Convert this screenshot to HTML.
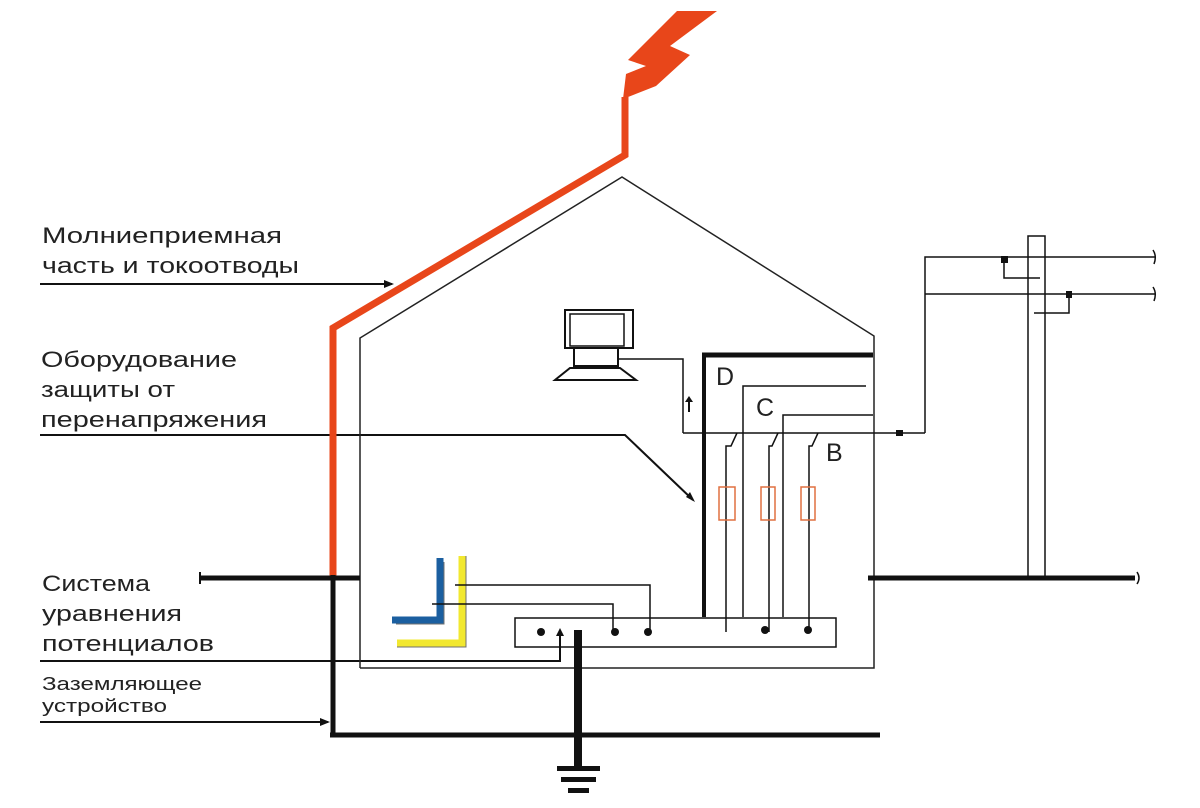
<!DOCTYPE html>
<html><head><meta charset="utf-8"><style>
html,body{margin:0;padding:0;background:#fff;width:1200px;height:808px;overflow:hidden}
svg{display:block}
text{font-family:"Liberation Sans","DejaVu Sans",sans-serif;fill:#222}
</style></head><body>
<svg width="1200" height="808" viewBox="0 0 1200 808" xmlns="http://www.w3.org/2000/svg">
<!-- labels -->
<text x="42" y="243" font-size="22" textLength="240" lengthAdjust="spacingAndGlyphs">Молниеприемная</text>
<text x="42" y="273" font-size="22" textLength="257" lengthAdjust="spacingAndGlyphs">часть и токоотводы</text>
<line x1="40" y1="284" x2="392" y2="284" stroke="#111" stroke-width="2"/>
<polygon points="384,280 394,284 384,288" fill="#111"/>
<text x="41" y="367" font-size="22" textLength="196" lengthAdjust="spacingAndGlyphs">Оборудование</text>
<text x="41" y="397" font-size="22" textLength="134" lengthAdjust="spacingAndGlyphs">защиты от</text>
<text x="41" y="427" font-size="22" textLength="226" lengthAdjust="spacingAndGlyphs">перенапряжения</text>
<polyline points="40,435 625,435 693,500" fill="none" stroke="#111" stroke-width="2"/>
<polygon points="686,497 695,502 690,492" fill="#111"/>
<text x="42" y="591" font-size="22" textLength="108" lengthAdjust="spacingAndGlyphs">Система</text>
<text x="42" y="621" font-size="22" textLength="140" lengthAdjust="spacingAndGlyphs">уравнения</text>
<text x="42" y="651" font-size="22" textLength="172" lengthAdjust="spacingAndGlyphs">потенциалов</text>
<polyline points="40,661 560,661 560,632" fill="none" stroke="#111" stroke-width="2"/>
<polygon points="556,636 560,628 564,636" fill="#111"/>
<text x="42" y="690" font-size="18" textLength="160" lengthAdjust="spacingAndGlyphs">Заземляющее</text>
<text x="42" y="712" font-size="18" textLength="125" lengthAdjust="spacingAndGlyphs">устройство</text>
<line x1="40" y1="722" x2="328" y2="722" stroke="#111" stroke-width="2"/>
<polygon points="320,718 330,722 320,726" fill="#111"/>

<!-- house outline -->
<polyline points="360,668 360,338 622,177 874,336 874,668 360,668" fill="none" stroke="#222" stroke-width="1.5"/>

<!-- lightning bolt -->
<polygon points="677,11 717,11 670,46 690,55 656,86 623,99 626,74 646,66 628,60 650,38" fill="#e8461a"/>
<!-- down conductor -->
<polyline points="625,97 625,155 333,328 333,577" fill="none" stroke="#e8461a" stroke-width="7"/>
<line x1="333" y1="575" x2="333" y2="737" stroke="#111" stroke-width="5"/>
<line x1="330" y1="735" x2="880" y2="735" stroke="#111" stroke-width="5"/>
<line x1="200" y1="578" x2="360" y2="578" stroke="#111" stroke-width="5"/>
<line x1="200" y1="572" x2="200" y2="584" stroke="#111" stroke-width="2"/>
<line x1="868" y1="578" x2="1135" y2="578" stroke="#111" stroke-width="5"/>

<!-- computer -->
<rect x="565" y="310" width="68" height="38" fill="none" stroke="#111" stroke-width="2"/>
<rect x="570" y="314" width="54" height="32" fill="none" stroke="#111" stroke-width="1.5"/>
<rect x="574" y="348" width="44" height="18" fill="none" stroke="#111" stroke-width="2"/>
<polygon points="555,380 636,380 620,368 570,368" fill="none" stroke="#111" stroke-width="2"/>
<polyline points="618,359 683,359 683,433" fill="none" stroke="#111" stroke-width="1.5"/>
<line x1="689" y1="399" x2="689" y2="412" stroke="#111" stroke-width="2"/>
<polygon points="685,402 689,396 693,402" fill="#111"/>

<!-- frame -->
<line x1="704" y1="353" x2="704" y2="617" stroke="#111" stroke-width="4"/>
<line x1="702" y1="355" x2="873" y2="355" stroke="#111" stroke-width="5"/>
<text x="716" y="385" font-size="25" fill="#222">D</text>
<text x="756" y="416" font-size="25" fill="#222">C</text>
<text x="826" y="461" font-size="25" fill="#222">B</text>
<polyline points="743,617 743,386 866,386" fill="none" stroke="#111" stroke-width="1.5"/>
<polyline points="783,617 783,415 873,415" fill="none" stroke="#111" stroke-width="1.5"/>
<line x1="683" y1="433" x2="925" y2="433" stroke="#111" stroke-width="1.5"/>
<rect x="896" y="430" width="7" height="6" fill="#111"/>
<polyline points="925,433 925,257 1155,257" fill="none" stroke="#111" stroke-width="1.5"/>
<line x1="925" y1="294" x2="1155" y2="294" stroke="#111" stroke-width="1.5"/>
<!-- switches -->
<g stroke="#111" stroke-width="1.5" fill="none">
<polyline points="737,433 731,446 726,446 726,632"/>
<polyline points="778,433 772,446 769,446 769,632"/>
<polyline points="818,433 812,446 809,446 809,632"/>
</g>
<g fill="none" stroke="#e07040" stroke-width="1.5">
<rect x="719" y="487" width="16" height="33"/>
<rect x="761" y="487" width="14" height="33"/>
<rect x="801" y="487" width="14" height="33"/>
</g>
<!-- busbar -->
<rect x="515" y="618" width="321" height="29" fill="none" stroke="#111" stroke-width="1.5"/>
<g fill="#111">
<circle cx="541" cy="632" r="4"/><circle cx="615" cy="632" r="4"/><circle cx="648" cy="632" r="4"/>
<circle cx="765" cy="630" r="4"/><circle cx="808" cy="630" r="4"/>
</g>
<!-- pipes -->
<polyline points="440,558 440,620 392,620" fill="none" stroke="#1b5fa0" stroke-width="7"/>
<polyline points="440,558 440,620 392,620" fill="none" stroke="#111" stroke-width="1" transform="translate(4,4)" opacity="0.6"/>
<polyline points="462,556 462,643 397,643" fill="none" stroke="#f2e830" stroke-width="7"/>
<polyline points="466,556 466,647 397,647" fill="none" stroke="#111" stroke-width="1" opacity="0.6"/>
<polyline points="455,585 650,585 650,632" fill="none" stroke="#111" stroke-width="1.5"/>
<polyline points="432,604 613,604 613,632" fill="none" stroke="#111" stroke-width="1.5"/>
<!-- ground rod -->
<line x1="578" y1="630" x2="578" y2="768" stroke="#111" stroke-width="8"/>
<rect x="557" y="766" width="43" height="5" fill="#111"/>
<rect x="561" y="777" width="35" height="5" fill="#111"/>
<rect x="568" y="788" width="21" height="5" fill="#111"/>
<!-- pole -->
<rect x="1028" y="236" width="17" height="342" fill="none" stroke="#111" stroke-width="1.5"/>
<polyline points="1004,259 1004,278 1040,278" fill="none" stroke="#111" stroke-width="1.5"/>
<rect x="1001" y="256" width="7" height="7" fill="#111"/>
<polyline points="1069,296 1069,313 1034,313" fill="none" stroke="#111" stroke-width="1.5"/>
<rect x="1066" y="291" width="6" height="7" fill="#111"/>
<path d="M1153,250 q4,6 1,14 M1153,287 q4,6 1,14 M1137,572 q4,6 0,12" fill="none" stroke="#111" stroke-width="1.5"/>
</svg>
</body></html>
